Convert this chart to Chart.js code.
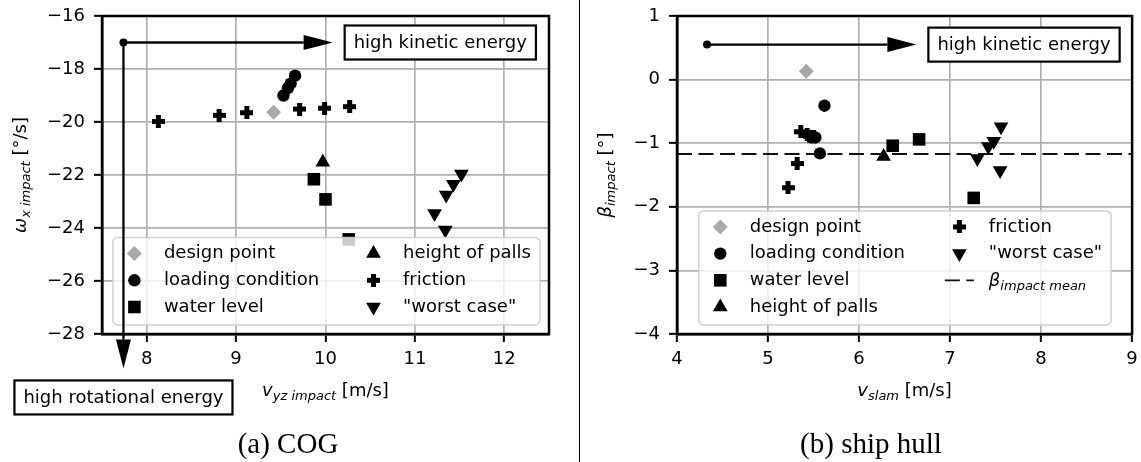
<!DOCTYPE html>
<html>
<head>
<meta charset="utf-8">
<script src="https://cdn.jsdelivr.net/npm/chart.js@4/dist/chart.umd.min.js"></script>
<style>
  html, body { margin: 0; padding: 0; background: #fff; }
  body { width: 1141px; height: 462px; position: relative; overflow: hidden; }
  #cogChart { position: absolute; left: 0; top: 0; }
  #hullChart { position: absolute; left: 580px; top: 0; }
  .sep { position: absolute; left: 579px; top: 0; width: 1px; height: 462px; background: #000; }
  .caption { position: absolute; top: 426px; height: 34px; line-height: 34px; text-align: center;
             font-family: "Liberation Serif", serif; font-size: 29px; color: #000; }
</style>
</head>
<body>
<canvas id="cogChart" width="570" height="462"></canvas>
<div class="sep"></div>
<canvas id="hullChart" width="561" height="462"></canvas>
<div class="caption" style="left:188px;width:200px;">(a) COG</div>
<div class="caption" style="left:771px;width:200px;">(b) ship hull</div>
<script>
// series names, same order in both panels
const seriesLabels = ["design point", "loading condition", "water level", "height of palls", "friction", "\"worst case\""];

// (a) COG: v_yz impact [m/s] vs omega_x impact [deg/s]
const cogXTicks = [8, 9, 10, 11, 12];
const cogYTicks = [-28, -26, -24, -22, -20, -18, -16];
const cogDesign = [[9.42, -19.63]];
const cogLoading = [[9.53, -19.0], [9.58, -18.72], [9.61, -18.55], [9.66, -18.25]];
const cogWater = [[9.87, -22.16], [10.0, -22.92], [10.26, -24.43]];
const cogPalls = [[9.97, -21.52]];
const cogFriction = [[8.13, -19.98], [8.81, -19.75], [9.12, -19.65], [9.71, -19.51], [9.99, -19.48], [10.27, -19.42]];
const cogWorst = [[11.22, -23.45], [11.34, -24.08], [11.35, -22.75], [11.43, -22.35], [11.52, -21.96]];
const cogArrowOrigin = [7.74, -17.0];
const cogArrowRightX = 10.08;
const cogArrowDownY = -29.3;

// (b) ship hull: v_slam [m/s] vs beta_impact [deg]
const hullXTicks = [4, 5, 6, 7, 8, 9];
const hullYTicks = [-4, -3, -2, -1, 0, 1];
const hullDesign = [[5.42, 0.13]];
const hullLoading = [[5.62, -0.41], [5.48, -0.91], [5.52, -0.91], [5.57, -1.16]];
const hullWater = [[6.37, -1.04], [6.66, -0.94], [7.26, -1.86]];
const hullPalls = [[6.27, -1.21]];
const hullFriction = [[5.22, -1.70], [5.32, -1.32], [5.36, -0.82], [5.43, -0.87], [5.46, -0.89], [5.50, -0.9]];
const hullWorst = [[7.30, -1.24], [7.42, -1.05], [7.48, -0.97], [7.56, -0.74], [7.55, -1.43]];
const hullBetaMean = -1.17;
const hullArrowOrigin = [4.33, 0.55];
const hullArrowRightX = 6.63;

const GREY = "#a9a9a9";
const INK = "#000000";
const FAMILY = "'DejaVu Sans', sans-serif";

Chart.defaults.font.family = FAMILY;
Chart.defaults.font.size = 18;
Chart.defaults.color = INK;

// filled "plus" marker (matplotlib 'P') as a small canvas
function plusMarker(size, arm, color) {
    const c = document.createElement("canvas");
    c.width = size;
    c.height = size;
    const g = c.getContext("2d");
    g.fillStyle = color;
    const a = (size - arm) / 2;
    g.fillRect(a, 0, arm, size);
    g.fillRect(0, a, size, arm);
    return c;
}
const plusImg = plusMarker(13, 5, INK);

const markers = [
    { pointStyle: "rectRot", radius: 7.5, rotation: 0, color: GREY },
    { pointStyle: "circle", radius: 6.2, rotation: 0, color: INK },
    { pointStyle: "rect", radius: 8.9, rotation: 0, color: INK },
    { pointStyle: "triangle", radius: 8.5, rotation: 0, color: INK },
    { pointStyle: plusImg, radius: 6, rotation: 0, color: INK },
    { pointStyle: "triangle", radius: 8.5, rotation: 180, color: INK }
];

function scatterSets(seriesList) {
    return seriesList.map((pts, i) => ({
        label: seriesLabels[i],
        data: pts.map(([x, y]) => ({ x, y })),
        pointStyle: markers[i].pointStyle,
        pointRadius: markers[i].radius,
        pointHoverRadius: markers[i].radius,
        pointRotation: markers[i].rotation,
        backgroundColor: markers[i].color,
        borderColor: markers[i].color,
        borderWidth: 0,
        marker: markers[i]
    }));
}

function fmtTick(v) {
    return v < 0 ? "\u2212" + Math.abs(v) : String(v);
}

function axis(ticks, min, max, size, isX) {
    return {
        type: "linear",
        min: min,
        max: max,
        afterBuildTicks: s => { s.ticks = ticks.map(v => ({ value: v })); },
        afterFit: s => {
            if (isX) s.height = size; else s.width = size;
            s.paddingLeft = s.paddingRight = s.paddingTop = s.paddingBottom = 0;
        },
        grid: { color: "#b0b0b0", lineWidth: 1.7, tickColor: INK, tickLength: 8, tickWidth: 2 },
        border: { color: INK, width: 2.5 },
        ticks: { padding: isX ? 7 : 9, autoSkip: false, maxRotation: 0, callback: v => fmtTick(v) }
    };
}

// text made of plain / italic / subscript pieces
function partFont(p) {
    return (p.italic ? "italic " : "") + (p.sub ? 13 : 18) + "px " + FAMILY;
}
function richWidth(ctx, parts) {
    let w = 0;
    parts.forEach(p => { ctx.font = partFont(p); w += ctx.measureText(p.text).width; });
    return w;
}
function drawRich(ctx, parts, x, y, opts) {
    opts = opts || {};
    ctx.save();
    ctx.translate(x, y);
    if (opts.rotate) ctx.rotate(-Math.PI / 2);
    let cx = opts.align === "left" ? 0 : -richWidth(ctx, parts) / 2;
    ctx.fillStyle = INK;
    ctx.textBaseline = "alphabetic";
    ctx.textAlign = "left";
    parts.forEach(p => {
        ctx.font = partFont(p);
        ctx.fillText(p.text, cx, p.sub ? 10 : 6);
        cx += ctx.measureText(p.text).width;
    });
    ctx.restore();
}

function drawMarker(ctx, m, x, y) {
    ctx.save();
    ctx.translate(x, y);
    if (typeof m.pointStyle === "object") {
        ctx.drawImage(m.pointStyle, -m.pointStyle.width / 2, -m.pointStyle.height / 2);
        ctx.restore();
        return;
    }
    ctx.rotate(m.rotation * Math.PI / 180);
    ctx.fillStyle = m.color;
    const r = m.radius;
    ctx.beginPath();
    if (m.pointStyle === "circle") {
        ctx.arc(0, 0, r, 0, 2 * Math.PI);
    } else if (m.pointStyle === "rect") {
        const s = r * Math.SQRT1_2;
        ctx.rect(-s, -s, 2 * s, 2 * s);
    } else if (m.pointStyle === "rectRot") {
        ctx.moveTo(-r, 0); ctx.lineTo(0, -r); ctx.lineTo(r, 0); ctx.lineTo(0, r); ctx.closePath();
    } else {
        for (let k = 0; k < 3; k++) {
            const a = k * 2 * Math.PI / 3;
            if (k) ctx.lineTo(Math.sin(a) * r, -Math.cos(a) * r);
            else ctx.moveTo(Math.sin(a) * r, -Math.cos(a) * r);
        }
        ctx.closePath();
    }
    ctx.fill();
    ctx.restore();
}

const framePlugin = {
    id: "frame",
    afterDatasetsDraw(chart) {
        const { ctx, chartArea: a } = chart;
        ctx.save();
        ctx.strokeStyle = INK;
        ctx.lineWidth = 2.5;
        ctx.strokeRect(a.left, a.top, a.right - a.left, a.bottom - a.top);
        ctx.restore();
    }
};

// matplotlib-like legend, two columns, lower right inside the axes
function legendPlugin(rightGap, bottomGap) {
    return {
        id: "boxLegend",
        afterDatasetsDraw(chart) {
            const { ctx, chartArea: a } = chart;
            const items = chart.data.datasets;
            const rows = Math.ceil(items.length / 2);
            const rowH = 26.7;
            ctx.save();
            let col2W = 0;
            items.forEach((d, i) => {
                if (i >= rows) {
                    ctx.font = "18px " + FAMILY;
                    const w = d.richLabel ? richWidth(ctx, d.richLabel) : ctx.measureText(d.label).width;
                    col2W = Math.max(col2W, w);
                }
            });
            const w = 290.6 + col2W + 8.5;
            const h = 16 + (rows - 1) * rowH + 18;
            const right = a.right - rightGap, bottom = a.bottom - bottomGap;
            const left = right - w, top = bottom - h;
            ctx.beginPath();
            ctx.roundRect(left, top, w, h, 5);
            ctx.fillStyle = "rgba(255,255,255,0.8)";
            ctx.fill();
            ctx.strokeStyle = "rgba(204,204,204,0.9)";
            ctx.lineWidth = 1.5;
            ctx.stroke();
            items.forEach((d, i) => {
                const col = i < rows ? 0 : 1;
                const row = i % rows;
                const mx = left + (col ? 260.6 : 21.5);
                const my = top + 16 + row * rowH;
                if (d.marker) {
                    drawMarker(ctx, d.marker, mx, my);
                } else {
                    ctx.save();
                    ctx.strokeStyle = d.borderColor;
                    ctx.lineWidth = d.borderWidth;
                    ctx.setLineDash(d.borderDash);
                    ctx.beginPath();
                    ctx.moveTo(mx - 14.5, my);
                    ctx.lineTo(mx + 14.5, my);
                    ctx.stroke();
                    ctx.restore();
                }
                if (d.richLabel) {
                    drawRich(ctx, d.richLabel, mx + 29.5, my, { align: "left" });
                } else {
                    ctx.font = "18px " + FAMILY;
                    ctx.fillStyle = INK;
                    ctx.textAlign = "left";
                    ctx.textBaseline = "middle";
                    ctx.fillText(d.label, mx + 29.5, my);
                }
            });
            ctx.restore();
        }
    };
}

function drawArrow(ctx, x0, y0, x1, y1) {
    const len = Math.hypot(x1 - x0, y1 - y0);
    const ux = (x1 - x0) / len, uy = (y1 - y0) / len;
    const hl = 29, hw = 7.5;
    const bx = x1 - ux * hl, by = y1 - uy * hl;
    ctx.save();
    ctx.strokeStyle = INK;
    ctx.fillStyle = INK;
    ctx.lineWidth = 2.3;
    ctx.beginPath();
    ctx.moveTo(x0, y0);
    ctx.lineTo(bx, by);
    ctx.stroke();
    ctx.beginPath();
    ctx.moveTo(x1, y1);
    ctx.lineTo(bx - uy * hw, by + ux * hw);
    ctx.lineTo(bx + uy * hw, by - ux * hw);
    ctx.closePath();
    ctx.fill();
    ctx.restore();
}

function drawTextBox(ctx, text, x, y, anchor) {
    ctx.save();
    ctx.font = "18px " + FAMILY;
    const w = ctx.measureText(text).width + 18, h = 34;
    const left = anchor === "left" ? x : x - w / 2;
    const top = anchor === "left" ? y - h / 2 : y;
    ctx.fillStyle = "#fff";
    ctx.fillRect(left, top, w, h);
    ctx.strokeStyle = INK;
    ctx.lineWidth = 2.2;
    ctx.strokeRect(left, top, w, h);
    ctx.fillStyle = INK;
    ctx.textAlign = "center";
    ctx.textBaseline = "middle";
    ctx.fillText(text, left + w / 2, top + h / 2 + 1);
    ctx.restore();
}

function notesPlugin(cfg) {
    return {
        id: "notes",
        afterDraw(chart) {
            const { ctx, chartArea: a } = chart;
            const xs = chart.scales.x, ys = chart.scales.y;
            // axis titles
            drawRich(ctx, cfg.xTitle, (a.left + a.right) / 2, 390);
            drawRich(ctx, cfg.yTitle, cfg.yTitleX, (a.top + a.bottom) / 2, { rotate: true });
            // energy arrows
            const ox = xs.getPixelForValue(cfg.origin[0]);
            const oy = ys.getPixelForValue(cfg.origin[1]);
            const hx = xs.getPixelForValue(cfg.rightX);
            drawArrow(ctx, ox, oy, hx, oy);
            drawTextBox(ctx, "high kinetic energy", hx + 12, oy, "left");
            if (cfg.downY !== undefined) {
                const vy = ys.getPixelForValue(cfg.downY);
                drawArrow(ctx, ox, oy, ox, vy);
                drawTextBox(ctx, "high rotational energy", ox, vy + 12, "top");
            }
            ctx.save();
            ctx.fillStyle = INK;
            ctx.beginPath();
            ctx.arc(ox, oy, 4, 0, 2 * Math.PI);
            ctx.fill();
            ctx.restore();
        }
    };
}

const baseOptions = {
    responsive: false,
    animation: false,
    events: [],
    plugins: { legend: { display: false }, tooltip: { enabled: false } }
};

new Chart(document.getElementById("cogChart").getContext("2d"), {
    type: "scatter",
    data: { datasets: scatterSets([cogDesign, cogLoading, cogWater, cogPalls, cogFriction, cogWorst]) },
    options: Object.assign({}, baseOptions, {
        layout: { padding: { left: 0, top: 16, right: 21, bottom: 0 } },
        scales: {
            x: axis(cogXTicks, 7.5, 12.5, 128, true),
            y: axis(cogYTicks, -28, -16, 102, false)
        }
    }),
    plugins: [framePlugin, legendPlugin(9, 9), notesPlugin({
        origin: cogArrowOrigin,
        rightX: cogArrowRightX,
        downY: cogArrowDownY,
        yTitleX: 20,
        xTitle: [{ text: "v", italic: true }, { text: "yz impact", italic: true, sub: true }, { text: " [m/s]" }],
        yTitle: [{ text: "\u03c9", italic: true }, { text: "x impact", italic: true, sub: true }, { text: " [\u00b0/s]" }]
    })]
});

const hullSets = scatterSets([hullDesign, hullLoading, hullWater, hullPalls, hullFriction, hullWorst]);
hullSets.push({
    type: "line",
    label: "\u03b2 impact mean",
    richLabel: [{ text: "\u03b2", italic: true }, { text: "impact mean", italic: true, sub: true }],
    data: [{ x: 4, y: hullBetaMean }, { x: 9, y: hullBetaMean }],
    borderColor: "#111",
    borderWidth: 1.8,
    borderDash: [15, 6.5],
    pointRadius: 0,
    fill: false
});

new Chart(document.getElementById("hullChart").getContext("2d"), {
    type: "scatter",
    data: { datasets: hullSets },
    options: Object.assign({}, baseOptions, {
        layout: { padding: { left: 0, top: 16, right: 8, bottom: 0 } },
        scales: {
            x: axis(hullXTicks, 4, 9, 128, true),
            y: axis(hullYTicks, -4, 1, 97, false)
        }
    }),
    plugins: [framePlugin, legendPlugin(21, 9), notesPlugin({
        origin: hullArrowOrigin,
        rightX: hullArrowRightX,
        yTitleX: 25,
        xTitle: [{ text: "v", italic: true }, { text: "slam", italic: true, sub: true }, { text: " [m/s]" }],
        yTitle: [{ text: "\u03b2", italic: true }, { text: "impact", italic: true, sub: true }, { text: " [\u00b0]" }]
    })]
});
</script>
</body>
</html>
